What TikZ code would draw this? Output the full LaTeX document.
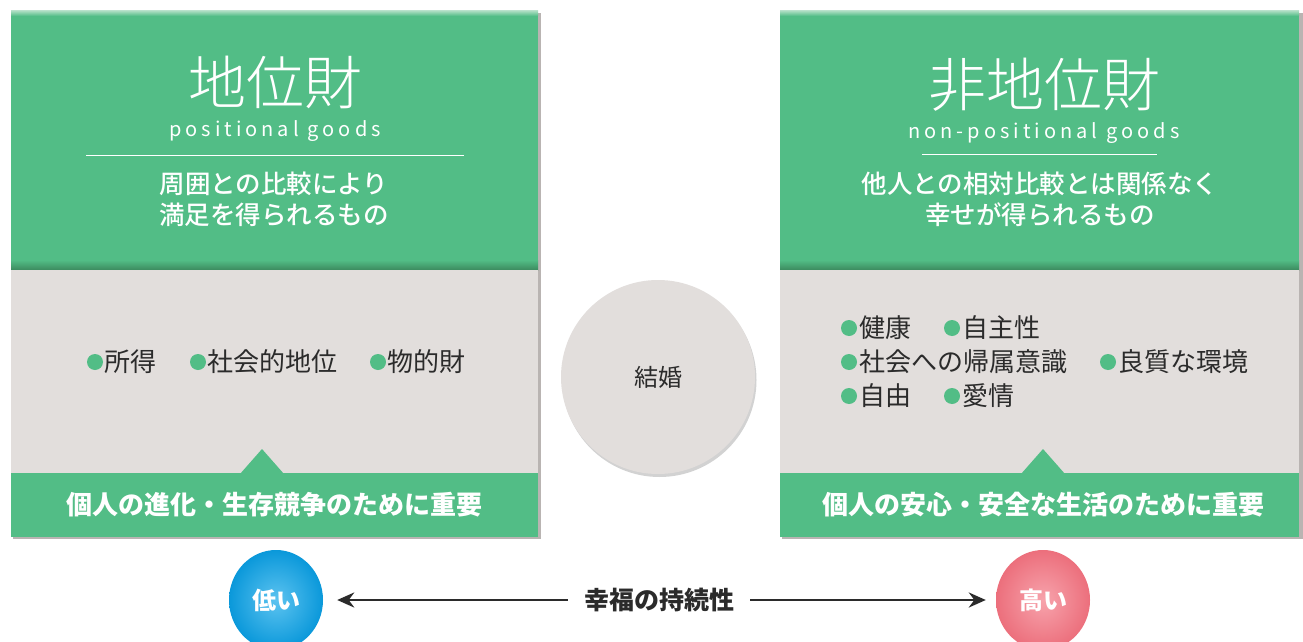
\documentclass[tikz,border=0pt]{standalone}
\usepackage{fontspec}
\setmainfont{Noto Sans CJK JP}
\newfontfamily\lightjp{Noto Sans CJK JP Light}
\newfontfamily\mediumjp{Noto Sans CJK JP Medium}
\usetikzlibrary{arrows.meta,shadows,shapes.geometric}
\definecolor{grn}{HTML}{52BD86}
\definecolor{grndark}{HTML}{3C8A5E}
\definecolor{grnlight}{HTML}{A9DCC0}
\definecolor{pgray}{HTML}{E2DEDC}
\definecolor{shgray}{HTML}{B9B4B2}
\definecolor{txtdark}{HTML}{2B2B2B}
\definecolor{bluec}{HTML}{0A98DA}
\definecolor{bluel}{HTML}{5CC3F0}
\definecolor{pinkc}{HTML}{EC6F7C}
\definecolor{pinkl}{HTML}{F7A3AC}
\tikzset{
  titletxt/.style={text=white, font=\lightjp\fontsize{58}{62}\selectfont},
  engtxt/.style={text=white, font=\fontsize{20}{22}\selectfont\addfontfeature{LetterSpace=20}},
  desctxt/.style={text=white, align=center, font=\mediumjp\fontsize{25.5}{31}\selectfont},
  itemtxt/.style={text=txtdark, anchor=west, inner sep=0pt, font=\fontsize{26}{28}\selectfont},
  bandtxt/.style={text=white, font=\fontsize{26}{28}\selectfont\bfseries},
  bul/.style={circle, fill=grn, inner sep=0pt, minimum size=16pt},
  oval/.style={ellipse, minimum width=94pt, minimum height=100pt, inner sep=0pt, text=white, font=\fontsize{24}{26}\selectfont\bfseries},
  arr/.style={line width=2.8pt, -{Stealth[length=17pt,width=15pt]}, txtdark}
}
\begin{document}
\begin{tikzpicture}[x=1pt,y=-1pt]
\useasboundingbox (0,0) rectangle (1303,642);
\fill[white] (0,0) rectangle (1303,642);

% ---------- left panel ----------
\fill[shgray] (13,13) rectangle (541,539);
\fill[grn] (11,11) rectangle (538,268);
\shade[top color=grnlight, bottom color=grn] (11,11) rectangle (538,16);
\shade[top color=grn, bottom color=grndark] (11,260) rectangle (538,270);
\fill[pgray] (11,270) rectangle (538,473);
\fill[grn] (11,473) rectangle (538,537);
\fill[grn] (240,474) -- (262,449) -- (284,474) -- cycle;

\node[titletxt] (lt) at (275,82) {地位財};
\node[engtxt] (le) at (275,131) {positional\hspace{9pt}goods};
\draw[white, line width=1pt] (86,155) -- (464,155);
\node[desctxt] (ld) at (274,199) {周囲との比較により\\満足を得られるもの};

\node[bul] (lb1) at (95,362) {};
\node[itemtxt] (li1) at (104,362) {所得};
\node[bul] (lb2) at (198,362) {};
\node[itemtxt] (li2) at (207,362) {社会的地位};
\node[bul] (lb3) at (378,362) {};
\node[itemtxt] (li3) at (387,362) {物的財};

\node[bandtxt] (lband) at (274,505) {個人の進化・生存競争のために重要};

% ---------- right panel ----------
\fill[shgray] (782,13) rectangle (1303,539);
\fill[grn] (780,11) rectangle (1299,268);
\shade[top color=grnlight, bottom color=grn] (780,11) rectangle (1299,16);
\shade[top color=grn, bottom color=grndark] (780,260) rectangle (1299,270);
\fill[pgray] (780,270) rectangle (1299,473);
\fill[grn] (780,473) rectangle (1299,537);
\fill[grn] (1021,474) -- (1043,449) -- (1065,474) -- cycle;

\node[titletxt] (rt) at (1044,85) {非地位財};
\node[engtxt] (re) at (1044,133) {non-positional\hspace{9pt}goods};
\draw[white, line width=1pt] (922,154) -- (1157,154);
\node[desctxt] (rd) at (1040,199) {他人との相対比較とは関係なく\\幸せが得られるもの};

\node[bul] (rb1) at (849,328) {};
\node[itemtxt] (ri1) at (859,328) {健康};
\node[bul] (rb2) at (952,328) {};
\node[itemtxt] (ri2) at (962,328) {自主性};
\node[bul] (rb3) at (849,362) {};
\node[itemtxt] (ri3) at (859,362) {社会への帰属意識};
\node[bul] (rb4) at (1108,362) {};
\node[itemtxt] (ri4) at (1118,362) {良質な環境};
\node[bul] (rb5) at (849,396) {};
\node[itemtxt] (ri5) at (859,396) {自由};
\node[bul] (rb6) at (952,396) {};
\node[itemtxt] (ri6) at (962,396) {愛情};

\node[bandtxt] (rband) at (1043,505) {個人の安心・安全な生活のために重要};

% ---------- centre circle ----------
\node[circle, minimum size=194pt, inner sep=0pt, fill=pgray,
      drop shadow={opacity=0.35, shadow xshift=1.5pt, shadow yshift=-3pt},
      text=txtdark, font=\fontsize{24}{26}\selectfont] (mar) at (658,377) {結婚};

% ---------- bottom scale ----------
\node[oval, shading=radial, inner color=bluel, outer color=bluec] (low) at (276,600) {低い};
\node[oval, shading=radial, inner color=pinkl, outer color=pinkc] (high) at (1043,600) {高い};
\node[text=txtdark, inner xsep=16pt, font=\fontsize{25}{28}\selectfont\bfseries] (hc) at (659,600) {幸福の持続性};
\draw[arr] (hc.west) -- ([xshift=14pt]low.east);
\draw[arr] (hc.east) -- ([xshift=-10pt]high.west);
\end{tikzpicture}
\end{document}
